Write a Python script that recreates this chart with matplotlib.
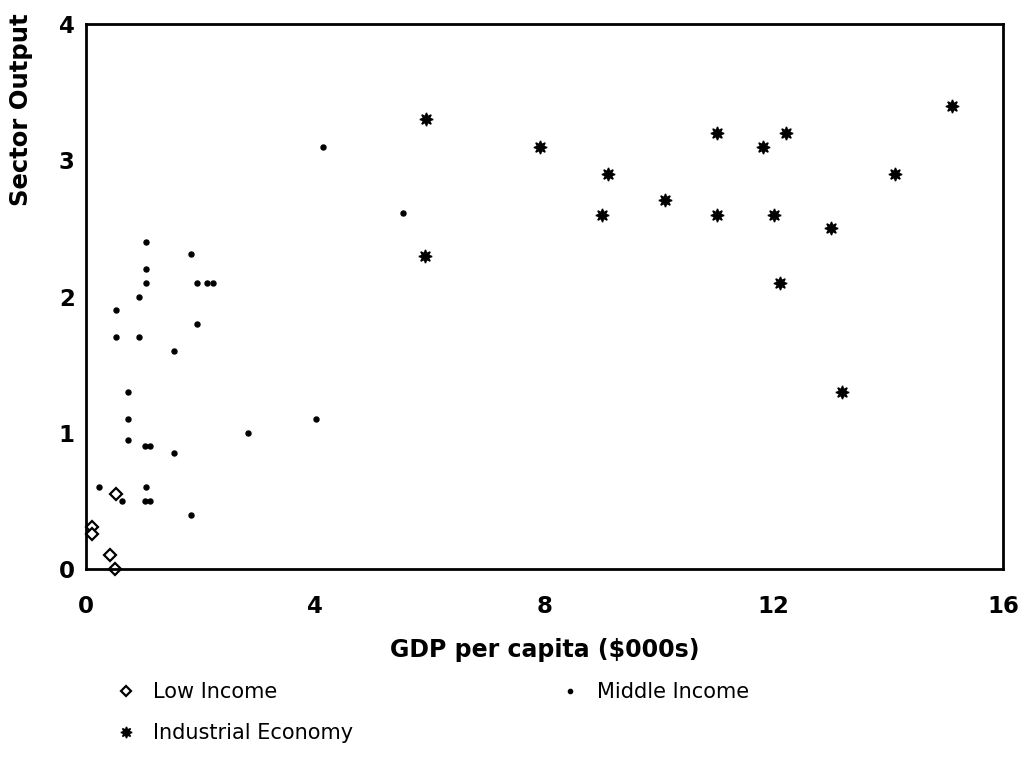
"""Sector output against GDP per capita, grouped by income class."""

import matplotlib
matplotlib.use("Agg")
import matplotlib.pyplot as plt

## data
low_x = [0.52, 0.11, 0.11, 0.42, 0.51]
low_y = [0.55, 0.31, 0.26, 0.10, 0.00]

mid_x = [1.05, 1.84, 1.05, 1.05, 1.93, 2.12, 2.22, 0.93, 0.53, 1.93,
         0.53, 0.93, 1.54, 0.73, 0.73, 0.73, 1.03, 1.12, 1.54, 2.82,
         0.23, 1.04, 0.63, 1.03, 1.12, 1.83, 4.13, 5.53, 4.01]
mid_y = [2.40, 2.31, 2.20, 2.10, 2.10, 2.10, 2.10, 2.00, 1.90, 1.80,
         1.70, 1.70, 1.60, 1.30, 1.10, 0.95, 0.90, 0.90, 0.85, 1.00,
         0.60, 0.60, 0.50, 0.50, 0.50, 0.40, 3.10, 2.61, 1.10]

ind_x = [5.93, 7.92, 9.11, 10.10, 9.01, 5.92, 15.11, 11.02, 12.21, 11.81,
         14.11, 11.02, 12.01, 13.01, 12.11, 13.20]
ind_y = [3.30, 3.10, 2.90, 2.71, 2.60, 2.30, 3.40, 3.20, 3.20, 3.10,
         2.90, 2.60, 2.60, 2.50, 2.10, 1.30]

x_ticks = [0, 4, 8, 12, 16]
y_ticks = [0, 1, 2, 3, 4]

fig = plt.figure(figsize=(10.21, 7.71), dpi=100)
ax = fig.add_axes([0.0842, 0.262, 0.898, 0.7068])

## the three groups
low, = ax.plot(low_x, low_y, ls="none", marker="D", ms=6.5, mfc="white",
               mec="black", mew=1.6, clip_on=False, label="Low Income")
mid, = ax.plot(mid_x, mid_y, ls="none", marker="o", ms=3.6, color="black",
               clip_on=False, label="Middle Income")
ind, = ax.plot(ind_x, ind_y, ls="none", marker=(8, 1, 0), ms=9.5,
               color="black", clip_on=False, label="Industrial Economy")

ax.set_xlim(0, 16)
ax.set_ylim(0, 4)
ax.set_xticks(x_ticks)
ax.set_yticks(y_ticks)
ax.tick_params(length=0, labelsize=16.5)
ax.tick_params(axis="x", pad=19)
ax.tick_params(axis="y", pad=8)
for lab in ax.get_xticklabels() + ax.get_yticklabels():
    lab.set_fontweight("bold")
for s in ax.spines.values():
    s.set_linewidth(2)

ax.set_xlabel("GDP per capita ($000s)", fontsize=17, fontweight="bold",
              labelpad=14)
fig.text(0.021, 0.983, "Sector Output", rotation=90, fontsize=17.5,
         fontweight="bold", ha="center", va="top")

## legend below the plot: col 1 low + industrial, col 2 middle
leg = ax.legend(handles=[low, ind, mid], ncol=2, frameon=False,
                loc="upper left", bbox_to_anchor=(0.095, 0.14),
                bbox_transform=fig.transFigure, fontsize=15,
                handlelength=1.0, handletextpad=0.77, columnspacing=9.95,
                labelspacing=1.04, markerscale=0.85)

fig.savefig("out.png", dpi=100)
